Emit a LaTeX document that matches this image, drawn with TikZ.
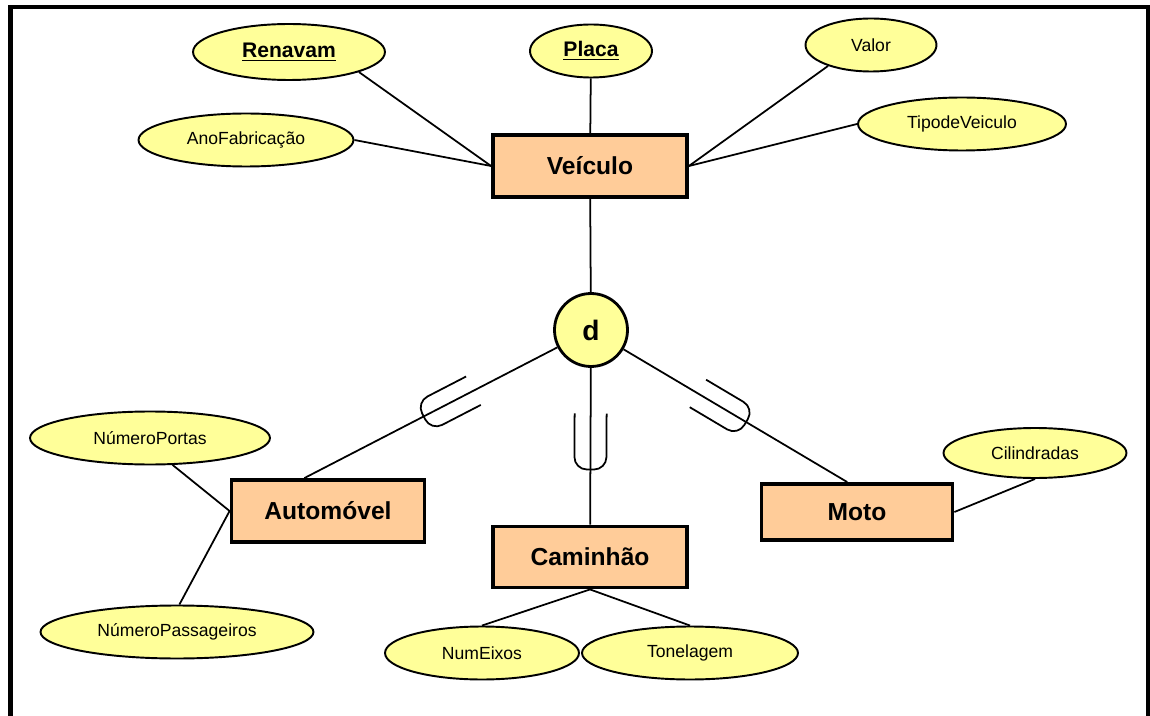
\documentclass[tikz,border=0pt]{standalone}
\usepackage{fontspec}
\setmainfont{Liberation Sans}
\usepackage{xcolor}
\usepackage{tikz}
\usetikzlibrary{shapes.geometric, calc}

\definecolor{entfill}{HTML}{FFCC99}
\definecolor{attfill}{HTML}{FFFF99}

\begin{document}
\begin{tikzpicture}[
  x=0.02cm, y=-0.02cm,
  ent/.style={rectangle, draw=black, line width=2.2pt, fill=entfill, minimum width=3.88cm, minimum height=1.24cm, font=\fontsize{14}{16}\selectfont\bfseries},
  att/.style={ellipse, draw=black, line width=1.1pt, fill=attfill, minimum height=1.06cm, inner sep=0pt, font=\fontsize{10}{12}\selectfont},
  keyatt/.style={att, font=\fontsize{12}{14}\selectfont\bfseries},
  lnk/.style={line width=1pt},
  subs/.pic={\draw[line width=1pt, rounded corners=0.25cm] (-28,16) -- (28,16) -- (28,-16) -- (-28,-16);}
]
  \useasboundingbox (0,0) rectangle (1150,716);
  \draw[line width=0.09cm] (10.5,716) -- (10.5,7) -- (1148,7) -- (1148,716);

  \node[ent] (veic) at (590,166) {Veículo};
  \node[ent, minimum width=3.86cm] (auto) at (328,511) {Automóvel};
  \node[ent, minimum height=1.22cm] (cam) at (590,557) {Caminhão};
  \node[ent, minimum width=3.82cm, minimum height=1.12cm] (moto) at (857,512) {Moto};
  \node[circle, draw=black, line width=1.6pt, fill=attfill, minimum size=1.46cm, inner sep=0pt, font=\fontsize{16}{18}\selectfont\bfseries] (disj) at (591,330) {d};

  \node[keyatt, minimum width=3.84cm, minimum height=1.12cm] (renavam) at (289,52) {\underline{Renavam}};
  \node[keyatt, minimum width=2.44cm] (placa) at (591,51) {\underline{Placa}};
  \node[att, minimum width=2.62cm] (valor) at (871,45) {Valor};
  \node[att, minimum width=4.16cm] (tipo) at (962,124) {TipodeVeiculo};
  \node[att, minimum width=4.3cm] (anofab) at (246,140) {AnoFabricação};
  \node[att, minimum width=4.8cm] (nportas) at (150,438) {NúmeroPortas};
  \node[att, minimum width=5.46cm] (npass) at (177,632) {NúmeroPassageiros};
  \node[att, minimum width=3.88cm] (neixos) at (482,653) {NumEixos};
  \node[att, minimum width=4.32cm] (tonel) at (690,653) {Tonelagem};
  \node[att, minimum width=3.66cm, minimum height=1cm] (cil) at (1035,453) {Cilindradas};

  \coordinate (autotop) at ($(auto.north west)!0.38!(auto.north east)$);
  \coordinate (mototop) at ($(moto.north west)!0.45!(moto.north east)$);

  \draw[lnk] (renavam.-16) -- (veic.west);
  \draw[lnk] (anofab.east) -- (veic.west);
  \draw[lnk] (placa) -- (veic);
  \draw[lnk] (valor.206) -- (veic.east);
  \draw[lnk] (tipo.west) -- (veic.east);
  \draw[lnk] (veic) -- (disj);
  \draw[lnk] (disj) -- (autotop) pic[pos=0.43, sloped, allow upside down] {subs};
  \draw[lnk] (disj) -- (cam) pic[pos=0.47, sloped, allow upside down] {subs};
  \draw[lnk] (disj) -- (mototop) pic[pos=0.44, sloped, allow upside down] {subs};
  \draw[lnk] (nportas.-50) -- (auto.west);
  \draw[lnk] (npass.85) -- (auto.west);
  \draw[lnk] (cam.south) -- (neixos.north);
  \draw[lnk] (cam.south) -- (tonel.north);
  \draw[lnk] (moto.east) -- (cil.south);
\end{tikzpicture}
\end{document}
